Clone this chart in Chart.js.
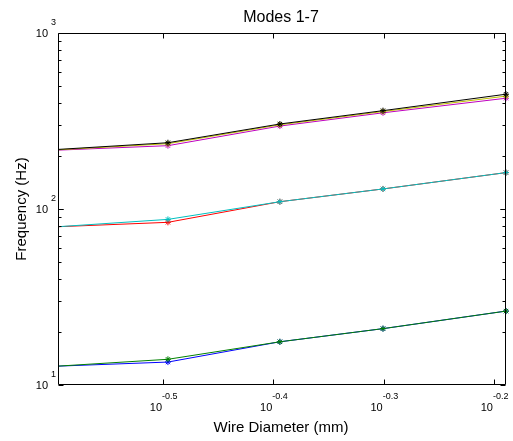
<!DOCTYPE html>
<html>
<head>
<meta charset="utf-8">
<script src="https://cdn.jsdelivr.net/npm/chart.js@4/dist/chart.umd.min.js"></script>
<style>
html,body{margin:0;padding:0;background:#fff;}
#wrap{width:513px;height:441px;}
</style>
</head>
<body>
<div id="wrap"><canvas id="c" width="513" height="441"></canvas></div>
<script>
// Wire diameters (mm)
const diameters = [0.254, 0.3195, 0.4036, 0.5005, 0.647];
// Frequencies (Hz) for each mode
const mode1 = [12.8, 13.5, 17.6, 20.9, 26.3];
const mode2 = [12.8, 14.0, 17.6, 20.9, 26.3];
const mode3 = [79.3, 84.0, 110, 130, 161];
const mode4 = [79.3, 87.3, 110, 130, 161];
const mode5 = [216, 229, 296, 352, 426];
const mode6 = [217, 235, 301, 358, 438];
const mode7 = [218, 238, 304, 362, 449];
const modeNames = ['Mode 1','Mode 2','Mode 3','Mode 4','Mode 5','Mode 6','Mode 7'];
const modeColors = ['#0000ff','#008000','#ff0000','#00bfbf','#bf00bf','#bfbf00','#000000'];
// Tick labels
const xTickExps = ['-0.5','-0.4','-0.3','-0.2'];
const yTickExps = ['1','2','3'];
const titleText = 'Modes 1-7';
const xTitle = 'Wire Diameter (mm)';
const yTitle = 'Frequency (Hz)';

const allModes = [mode1, mode2, mode3, mode4, mode5, mode6, mode7];
const datasets = allModes.map((vals, i) => ({
  label: modeNames[i],
  data: vals.map((v, j) => ({x: diameters[j], y: v})),
  borderColor: modeColors[i],
  backgroundColor: modeColors[i],
  borderWidth: 1,
  pointStyle: 'star',
  pointRadius: c => (c.dataIndex === 0 ? 0 : 3),
  pointBorderWidth: 1,
  showLine: true,
  tension: 0,
  clip: 6,
  order: allModes.length - i
}));

const FONT = '"Liberation Sans", Arial, Helvetica, sans-serif';
const X_MIN = diameters[0], X_MAX = diameters[diameters.length - 1];

const framePlugin = {
  id: 'frame',
  afterDraw(chart) {
    const {ctx, chartArea: a, scales: {x, y}} = chart;
    const L = Math.round(a.left) + 0.5, R = Math.round(a.right) - 0.5;
    const T = Math.round(a.top) + 0.5, B = Math.round(a.bottom) - 0.5;
    ctx.save();
    ctx.strokeStyle = '#000';
    ctx.lineWidth = 1;
    ctx.beginPath();
    ctx.rect(L, T, R - L, B - T);
    xTickExps.forEach(e => {
      const px = Math.round(x.getPixelForValue(Math.pow(10, parseFloat(e)))) + 0.5;
      ctx.moveTo(px, B); ctx.lineTo(px, B - 5);
      ctx.moveTo(px, T); ctx.lineTo(px, T + 5);
    });
    for (let d = 10; d <= 100; d *= 10) {
      for (let m = 1; m <= 10; m++) {
        const val = d * m;
        const py = Math.round(y.getPixelForValue(val)) + 0.5;
        const len = (m === 1 || m === 10) ? 5 : 3;
        ctx.moveTo(L, py); ctx.lineTo(L + len, py);
        ctx.moveTo(R, py); ctx.lineTo(R - len, py);
      }
    }
    ctx.stroke();

    ctx.fillStyle = '#000';
    yTickExps.forEach(e => {
      const py = y.getPixelForValue(Math.pow(10, parseFloat(e)));
      ctx.font = '11px ' + FONT;
      ctx.textAlign = 'right';
      ctx.textBaseline = 'middle';
      ctx.fillText('10', a.left - 10, py + 1);
      ctx.font = '9px ' + FONT;
      ctx.textAlign = 'left';
      ctx.fillText(e, a.left - 7, py - 10);
    });
    xTickExps.forEach(e => {
      const px = x.getPixelForValue(Math.pow(10, parseFloat(e)));
      ctx.font = '11px ' + FONT;
      ctx.textAlign = 'right';
      ctx.textBaseline = 'middle';
      ctx.fillText('10', px - 1, a.bottom + 23);
      ctx.font = '9px ' + FONT;
      ctx.textAlign = 'left';
      ctx.fillText(e, px - 1, a.bottom + 12);
    });
    const cx = (a.left + a.right) / 2 - 1;
    ctx.textAlign = 'center';
    ctx.textBaseline = 'alphabetic';
    ctx.font = '16px ' + FONT;
    ctx.fillText(titleText, cx, 22);
    ctx.font = '15px ' + FONT;
    ctx.fillText(xTitle, cx, 432);
    ctx.save();
    ctx.translate(26, (a.top + a.bottom) / 2);
    ctx.rotate(-Math.PI / 2);
    ctx.fillText(yTitle, 0, 0);
    ctx.restore();
    ctx.restore();
  }
};

new Chart(document.getElementById('c'), {
  type: 'scatter',
  data: {datasets},
  options: {
    responsive: false,
    devicePixelRatio: 1,
    animation: false,
    layout: {padding: {left: 58, top: 33, right: 7, bottom: 56}},
    plugins: {legend: {display: false}, tooltip: {enabled: false}, title: {display: false}},
    scales: {
      x: {
        type: 'logarithmic', display: false, bounds: 'data', min: X_MIN, max: X_MAX,
        afterBuildTicks: s => { s.min = X_MIN; s.max = X_MAX; },
        afterDataLimits: s => { s.min = X_MIN; s.max = X_MAX; }
      },
      y: {
        type: 'logarithmic', display: false, bounds: 'data', min: 10, max: 1000,
        afterBuildTicks: s => { s.min = 10; s.max = 1000; }
      }
    }
  },
  plugins: [framePlugin]
});
</script>
</body>
</html>
